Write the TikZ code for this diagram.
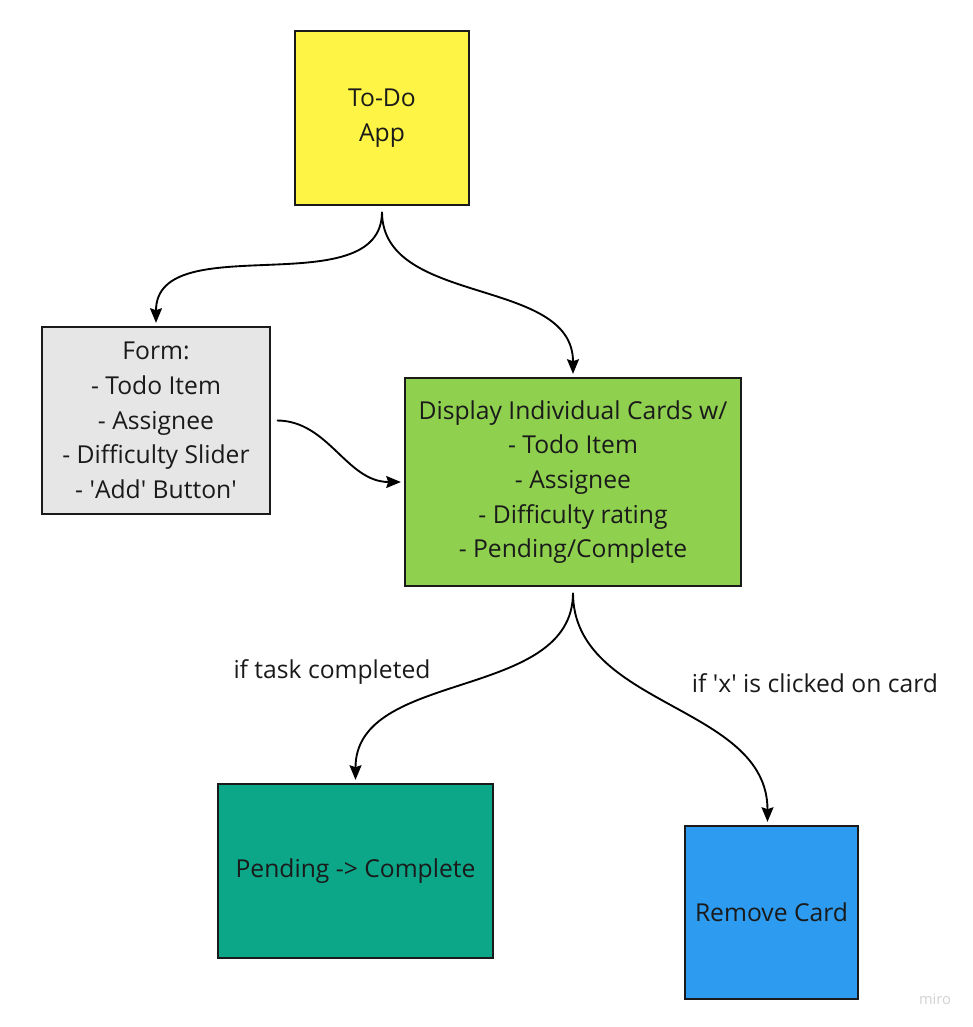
\documentclass[tikz,border=0pt]{standalone}
\usepackage{fontspec}
\setmainfont{Open Sans}
\usepackage{tikz}
\usepackage{xcolor}
\usetikzlibrary{positioning, arrows.meta}
\definecolor{todoyellow}{RGB}{254, 244, 69}
\definecolor{formgray}{RGB}{230, 230, 230}
\definecolor{cardgreen}{RGB}{143, 209, 79}
\definecolor{doneteal}{RGB}{12, 167, 137}
\definecolor{removeblue}{RGB}{45, 155, 240}
\definecolor{boxline}{RGB}{26, 26, 26}
\newcommand{\sq}{\textquotesingle}
\tikzset{
    basebox/.style={rectangle, draw=boxline, line width=2.2pt, align=center, text=boxline,
        font=\fontsize{18.5}{26}\selectfont, inner sep=0pt},
    appbox/.style={basebox, fill=todoyellow, minimum width=174*0.75pt, minimum height=174*0.75pt},
    formbox/.style={basebox, fill=formgray, minimum width=228*0.75pt, minimum height=187*0.75pt},
    cardbox/.style={basebox, fill=cardgreen, minimum width=336*0.75pt, minimum height=208*0.75pt},
    donebox/.style={basebox, fill=doneteal, minimum width=275*0.75pt, minimum height=174*0.75pt},
    removebox/.style={basebox, fill=removeblue, minimum width=173*0.75pt, minimum height=173*0.75pt},
    flow/.style={-{Stealth[length=11pt, width=9pt, inset=1.5pt]}, line width=1.4pt, black,
        shorten <=4pt, shorten >=2pt},
    condlabel/.style={font=\fontsize{18.5}{22}\selectfont, text=boxline}
}
\begin{document}
\begin{tikzpicture}[x=0.75pt, y=-0.75pt]
    \useasboundingbox (0,0) rectangle (973,1027);
    \node[appbox] (app) at (382,118) {To-Do\\App};
    \node[formbox] (form) at (156,420.5) {Form:\\- Todo Item\\- Assignee\\- Difficulty Slider\\- \sq Add\sq{} Button\sq};
    \node[cardbox] (cards) at (573,482) {Display Individual Cards w/\\- Todo Item\\- Assignee\\- Difficulty rating\\- Pending/Complete};
    \node[donebox] (done) at (355.5,871) {Pending -> Complete};
    \node[removebox] (remove) at (771.5,912.5) {Remove Card};
    % connectors
    \draw[flow] (app.south) to[out=-90, in=90] (form.north);
    \draw[flow] (app.south) to[out=-90, in=90] (cards.north);
    \draw[flow] (form.east) to[out=0, in=180] (cards.west);
    \draw[flow] (cards.south) to[out=-90, in=90] (done.north);
    \draw[flow] (cards.south) to[out=-90, in=90] ([xshift=-3pt]remove.north);
    % labels
    \node[condlabel] (donelabel) at (332,672) {if task completed};
    \node[condlabel] (removelabel) at (815,683) {if \sq x\sq{} is clicked on card};
    \node[font=\fontsize{11}{12}\selectfont, text=black!18] (brand) at (935,999) {miro};
\end{tikzpicture}
\end{document}
